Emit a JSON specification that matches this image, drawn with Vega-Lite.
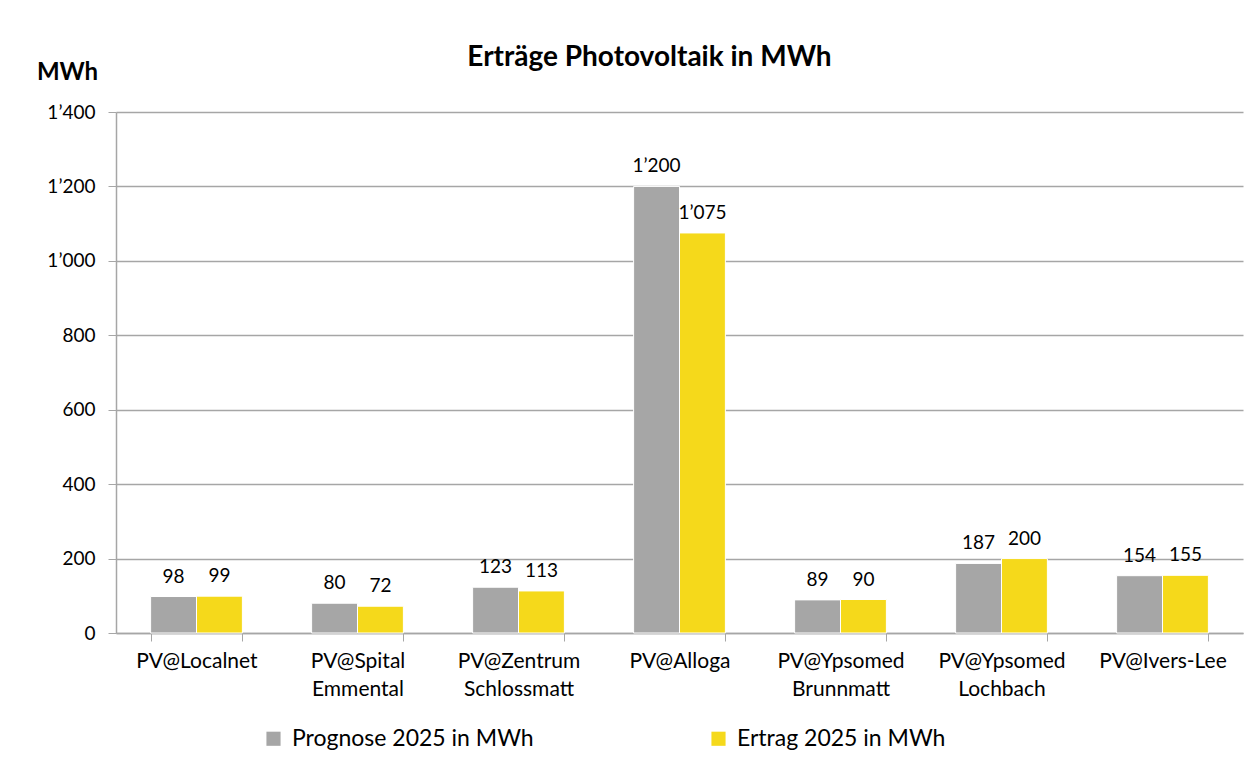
{
  "$schema": "https://vega.github.io/schema/vega-lite/v6.json",
  "width": 1127,
  "height": 521,
  "autosize": {"type": "none"},
  "padding": {"left": 116, "top": 112, "right": 5, "bottom": 143},
  "background": "white",
  "title": {
    "text": "Erträge Photovoltaik in MWh",
    "font": "Lato",
    "fontSize": 28,
    "fontWeight": "bold",
    "color": "#000000",
    "anchor": "middle",
    "dx": -30,
    "offset": -12
  },
  "config": {
    "view": {"stroke": null},
    "font": "Lato",
    "locale": {
      "number": {"decimal": ".", "thousands": "’", "grouping": [3], "currency": ["", ""]}
    }
  },
  "data": {
    "values": [
      {"site": "PV@Localnet", "series": "Prognose 2025 in MWh", "value": 98},
      {"site": "PV@Localnet", "series": "Ertrag 2025 in MWh", "value": 99},
      {"site": "PV@Spital Emmental", "series": "Prognose 2025 in MWh", "value": 80},
      {"site": "PV@Spital Emmental", "series": "Ertrag 2025 in MWh", "value": 72},
      {"site": "PV@Zentrum Schlossmatt", "series": "Prognose 2025 in MWh", "value": 123},
      {"site": "PV@Zentrum Schlossmatt", "series": "Ertrag 2025 in MWh", "value": 113},
      {"site": "PV@Alloga", "series": "Prognose 2025 in MWh", "value": 1200},
      {"site": "PV@Alloga", "series": "Ertrag 2025 in MWh", "value": 1075},
      {"site": "PV@Ypsomed Brunnmatt", "series": "Prognose 2025 in MWh", "value": 89},
      {"site": "PV@Ypsomed Brunnmatt", "series": "Ertrag 2025 in MWh", "value": 90},
      {"site": "PV@Ypsomed Lochbach", "series": "Prognose 2025 in MWh", "value": 187},
      {"site": "PV@Ypsomed Lochbach", "series": "Ertrag 2025 in MWh", "value": 200},
      {"site": "PV@Ivers-Lee", "series": "Prognose 2025 in MWh", "value": 154},
      {"site": "PV@Ivers-Lee", "series": "Ertrag 2025 in MWh", "value": 155}
    ]
  },
  "encoding": {
    "x": {
      "field": "site",
      "type": "nominal",
      "sort": null,
      "scale": {"paddingInner": 0.43, "paddingOuter": 0.215},
      "axis": {
        "title": null,
        "labelAngle": 0,
        "labelExpr": "split(datum.label, ' ')",
        "labelFont": "Lato",
        "labelFontSize": 21,
        "labelColor": "#000000",
        "labelLineHeight": 28,
        "labelPadding": 9,
        "tickBand": "extent",
        "tickSize": 8,
        "tickColor": "#A6A6A6",
        "domainColor": "#A6A6A6",
        "domainWidth": 1.5,
        "grid": false
      }
    },
    "xOffset": {
      "field": "series",
      "type": "nominal",
      "sort": ["Prognose 2025 in MWh", "Ertrag 2025 in MWh"],
      "scale": {"paddingInner": 0, "paddingOuter": 0}
    },
    "y": {
      "field": "value",
      "type": "quantitative",
      "scale": {"domain": [0, 1400], "nice": false},
      "axis": {
        "values": [0, 200, 400, 600, 800, 1000, 1200, 1400],
        "format": ",.0f",
        "labelFont": "Lato",
        "labelFontSize": 19,
        "labelColor": "#000000",
        "labelPadding": 13,
        "tickSize": 8,
        "tickColor": "#A6A6A6",
        "domainColor": "#A6A6A6",
        "domainWidth": 1.5,
        "gridColor": "#A6A6A6",
        "gridWidth": 1.5,
        "title": "MWh",
        "titleAngle": 0,
        "titleFont": "Lato",
        "titleFontSize": 24,
        "titleFontWeight": "bold",
        "titleColor": "#000000",
        "titleAlign": "center",
        "titleBaseline": "middle",
        "titleX": -49,
        "titleY": -40
      }
    }
  },
  "layer": [
    {
      "mark": {"type": "bar", "stroke": "white", "strokeWidth": 1},
      "encoding": {
        "color": {
          "field": "series",
          "type": "nominal",
          "sort": ["Prognose 2025 in MWh", "Ertrag 2025 in MWh"],
          "scale": {
            "domain": ["Prognose 2025 in MWh", "Ertrag 2025 in MWh"],
            "range": ["#A6A6A6", "#F5D91B"]
          },
          "legend": {
            "title": null,
            "orient": "none",
            "legendX": 146,
            "legendY": 615,
            "direction": "horizontal",
            "symbolType": "square",
            "symbolSize": 200,
            "symbolStrokeWidth": 0,
            "symbolOpacity": 1,
            "labelFont": "Lato",
            "labelFontSize": 23,
            "labelColor": "#000000",
            "labelLimit": 400,
            "columnPadding": 173,
            "labelOffset": 7
          }
        }
      }
    },
    {
      "mark": {
        "type": "text",
        "baseline": "bottom",
        "dy": -10,
        "font": "Lato",
        "fontSize": 19,
        "color": "#000000"
      },
      "encoding": {
        "text": {"field": "value", "type": "quantitative", "format": ","}
      }
    }
  ]
}
